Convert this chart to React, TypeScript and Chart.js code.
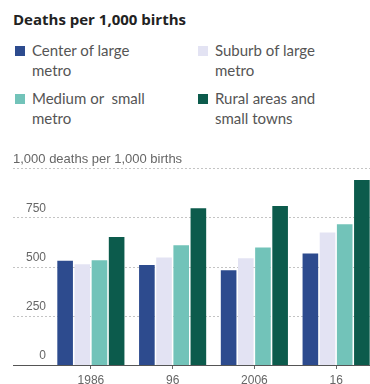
import React, { useEffect, useRef } from "react";
import { Chart, registerables } from "chart.js";

Chart.register(...registerables);

const years = ["1986", "96", "2006", "16"];
const centerMetro = [529, 507, 481, 566];
const suburbMetro = [512, 546, 542, 672];
const mediumSmallMetro = [532, 608, 597, 715];
const ruralTowns = [650, 796, 807, 939];

const seriesNames = [
  ["Center of large", "metro"],
  ["Suburb of large", "metro"],
  ["Medium or  small", "metro"],
  ["Rural areas and", "small towns"],
];
const seriesColors = ["#2d4b8e", "#e3e3f3", "#72c3b9", "#0c5b4c"];

const yTicks = [0, 250, 500, 750, 1000];
const unitLabel = "1,000 deaths per 1,000 births";

const TITLE_FONT = "'Open Sans', 'Liberation Sans', sans-serif";
const TEXT_FONT = "Lato, 'Liberation Sans', sans-serif";
const TICK_FONT = "'Liberation Sans Narrow', 'Liberation Sans', sans-serif";

// Dotted guide lines across the full width, the unit label on the top line,
// and a solid baseline drawn over the bars.
const guides = {
  id: "guides",
  beforeDatasetsDraw(chart: any) {
    const { ctx, chartArea, scales } = chart;
    const y = scales.y;
    ctx.save();
    ctx.strokeStyle = "#c4c4c4";
    ctx.lineWidth = 1;
    ctx.setLineDash([2, 2]);
    for (const v of yTicks) {
      if (v === 0) continue;
      const py = Math.round(y.getPixelForValue(v)) + 0.5;
      ctx.beginPath();
      ctx.moveTo(13, py);
      ctx.lineTo(chartArea.right, py);
      ctx.stroke();
    }
    ctx.setLineDash([]);
    ctx.fillStyle = "#666";
    ctx.font = `13px ${TICK_FONT}`;
    ctx.textAlign = "left";
    ctx.textBaseline = "middle";
    ctx.fillText(unitLabel, 13, y.getPixelForValue(1000) - 9);
    ctx.restore();
  },
  afterDatasetsDraw(chart: any) {
    const { ctx, chartArea, scales } = chart;
    const py = Math.round(scales.y.getPixelForValue(0)) + 0.5;
    ctx.save();
    ctx.strokeStyle = "#555";
    ctx.lineWidth = 1;
    ctx.beginPath();
    ctx.moveTo(13, py);
    ctx.lineTo(chartArea.right, py);
    ctx.stroke();
    ctx.restore();
  },
};

function LegendItem({ color, lines, left, top }: { color: string; lines: string[]; left: number; top: number }) {
  return (
    <div style={{ position: "absolute", left, top }}>
      <div
        style={{
          position: "absolute",
          left: 0,
          top: 6,
          width: 10,
          height: 10,
          background: color,
        }}
      />
      <div
        style={{
          position: "absolute",
          left: 17,
          top: 0,
          whiteSpace: "pre",
          fontFamily: TEXT_FONT,
          fontSize: 15,
          lineHeight: "20px",
          color: "#555",
        }}
      >
        {lines.join("\n")}
      </div>
    </div>
  );
}

export default function App() {
  const canvasRef = useRef<HTMLCanvasElement>(null);

  useEffect(() => {
    const canvas = canvasRef.current;
    if (!canvas) return;
    const data = [centerMetro, suburbMetro, mediumSmallMetro, ruralTowns];
    const chart = new Chart(canvas, {
      type: "bar",
      data: {
        labels: years,
        datasets: data.map((values, i) => ({
          label: seriesNames[i].join(" "),
          data: values,
          backgroundColor: seriesColors[i],
          borderWidth: 0,
          categoryPercentage: 0.84,
          barPercentage: 0.91,
        })),
      },
      options: {
        responsive: false,
        animation: false,
        devicePixelRatio: 1,
        layout: { padding: { top: 28, right: 3, left: 0, bottom: 0 } },
        plugins: {
          legend: { display: false },
          title: { display: false },
          tooltip: { enabled: false },
        },
        scales: {
          x: {
            afterFit: (scale: any) => {
              scale.height = 25;
            },
            border: { display: false },
            grid: {
              display: true,
              drawOnChartArea: false,
              drawTicks: true,
              tickLength: 4,
              offset: false,
              color: "#666",
            },
            ticks: {
              color: "#666",
              padding: 4,
              font: { family: TICK_FONT, size: 12 },
              maxRotation: 0,
            },
          },
          y: {
            min: 0,
            max: 1000,
            afterFit: (scale: any) => {
              scale.width = 50;
            },
            afterBuildTicks: (scale: any) => {
              scale.ticks = yTicks.map((v) => ({ value: v }));
            },
            border: { display: false },
            grid: { display: false, drawTicks: false },
            ticks: {
              color: "#666",
              padding: 4,
              labelOffset: -9,
              font: { family: TICK_FONT, size: 12 },
              callback: (v: any) => (Number(v) === 1000 ? "" : String(v)),
            },
          },
        },
      },
      plugins: [guides],
    });
    return () => chart.destroy();
  }, []);

  return (
    <div
      style={{
        position: "absolute",
        left: 0,
        top: 0,
        width: 370,
        height: 384,
        overflow: "hidden",
        background: "#fff",
      }}
    >
      <div
        style={{
          position: "absolute",
          left: 13,
          top: 10,
          fontFamily: TITLE_FONT,
          fontWeight: 700,
          fontSize: 15,
          lineHeight: "18px",
          color: "#222",
          whiteSpace: "nowrap",
        }}
      >
        Deaths per 1,000 births
      </div>
      <LegendItem color={seriesColors[0]} lines={seriesNames[0]} left={15} top={40} />
      <LegendItem color={seriesColors[1]} lines={seriesNames[1]} left={198} top={40} />
      <LegendItem color={seriesColors[2]} lines={seriesNames[2]} left={15} top={88} />
      <LegendItem color={seriesColors[3]} lines={seriesNames[3]} left={198} top={88} />
      <canvas
        ref={canvasRef}
        width={380}
        height={250}
        style={{ position: "absolute", left: 0, top: 140, width: 380, height: 250, display: "block" }}
      />
    </div>
  );
}
